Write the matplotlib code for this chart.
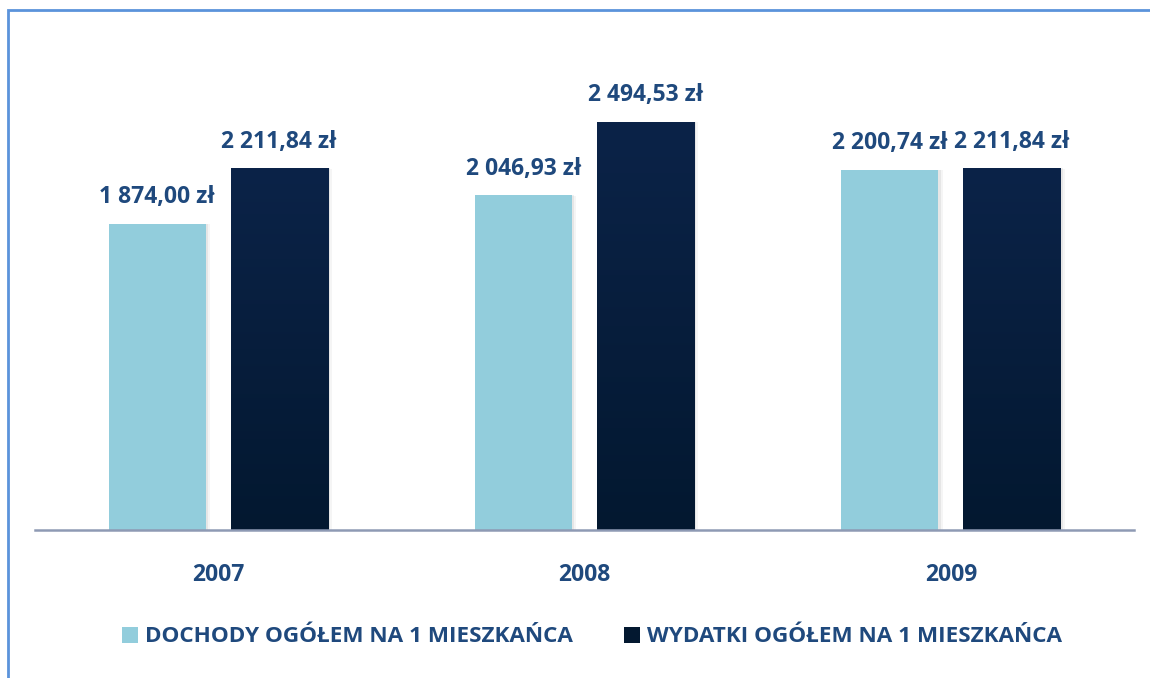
import numpy as np
import matplotlib.pyplot as plt
from matplotlib.patches import Rectangle
from matplotlib.colors import LinearSegmentedColormap

# =========================
# DATA
# =========================

YEARS = ["2007", "2008", "2009"]
DOCHODY = [1874.00, 2046.93, 2200.74]
WYDATKI = [2211.84, 2494.53, 2211.84]
SERIES_LABELS = ["DOCHODY OGÓŁEM NA 1 MIESZKAŃCA", "WYDATKI OGÓŁEM NA 1 MIESZKAŃCA"]

# =========================
# STYLE
# =========================

TEXT_COLOR = "#1F497D"
LIGHT = "#92CDDC"
DARK_TOP = "#0B2348"
DARK_BOTTOM = "#031830"
BORDER = "#5B93DB"
FONT = ["Open Sans", "DejaVu Sans"]


def fmt_pln(v):
    s = f"{v:,.2f}"
    s = s.replace(",", " ").replace(".", ",")
    return s + " zł"


def gradient_bar(ax, bar):
    x0, y0 = bar.get_x(), bar.get_y()
    w, h = bar.get_width(), bar.get_height()
    grad = np.linspace(0, 1, 256).reshape(-1, 1)
    cmap = LinearSegmentedColormap.from_list("g", [DARK_BOTTOM, DARK_TOP])
    im = ax.imshow(grad, cmap=cmap, origin="lower", aspect="auto",
                   extent=[x0, x0 + w, y0, y0 + h], zorder=3)
    im.set_clip_path(bar)
    bar.set_facecolor("none")


def main():
    plt.rcParams["font.family"] = FONT
    fig = plt.figure(figsize=(11.5, 6.78), dpi=100)
    ax = fig.add_axes([35 / 1150, 148 / 678, 1099 / 1150, 500 / 678])

    x = np.arange(len(YEARS))
    width = 0.265
    offset = 0.1665

    # soft shadows
    for xs, vals in [(x - offset, DOCHODY), (x + offset, WYDATKI)]:
        for k, a in [(0.006, 0.06), (0.012, 0.04)]:
            ax.bar(xs + k, vals, width=width, bottom=-k * 120,
                   color="#000000", alpha=a, zorder=1, linewidth=0)

    b1 = ax.bar(x - offset, DOCHODY, width=width, color=LIGHT, zorder=3,
                label=SERIES_LABELS[0])
    b2 = ax.bar(x + offset, WYDATKI, width=width, color=DARK_TOP, zorder=3,
                label=SERIES_LABELS[1])

    ax.set_xlim(-0.5, len(YEARS) - 0.5)
    ax.set_ylim(0, 500 / 0.1635)

    for bar in b2:
        gradient_bar(ax, bar)

    for bars, vals in [(b1, DOCHODY), (b2, WYDATKI)]:
        for bar, v in zip(bars, vals):
            ax.text(bar.get_x() + bar.get_width() / 2, v + 90, fmt_pln(v),
                    ha="center", va="bottom", fontsize=16.5, fontweight="bold",
                    color=TEXT_COLOR)

    for i, year in enumerate(YEARS):
        ax.text(i, -275, year, ha="center", va="center", fontsize=16.5,
                fontweight="bold", color=TEXT_COLOR)

    for side in ["top", "right", "left"]:
        ax.spines[side].set_visible(False)
    ax.spines["bottom"].set_color("#8E9AB4")
    ax.spines["bottom"].set_linewidth(1.8)
    ax.spines["bottom"].set_zorder(4)
    ax.set_xticks([])
    ax.set_yticks([])

    handles = [
        Rectangle((0, 0), 1, 1, facecolor=LIGHT),
        Rectangle((0, 0), 1, 1, facecolor=DARK_BOTTOM),
    ]
    leg = fig.legend(handles, SERIES_LABELS, loc="center",
                     bbox_to_anchor=(592 / 1150, 1 - 637 / 678), ncol=2,
                     frameon=False, handlelength=0.7, handleheight=0.7,
                     handletextpad=0.3, columnspacing=2.3,
                     prop={"size": 16.2, "weight": "bold"})
    for t in leg.get_texts():
        t.set_color(TEXT_COLOR)

    # outer border (only top and left visible in reference)
    fig.patches.append(Rectangle((7.5 / 1150, -0.1), 1.2, 1 - 10 / 678 + 0.1,
                                 transform=fig.transFigure, fill=False,
                                 edgecolor=BORDER, linewidth=2))

    fig.savefig("out.png", dpi=100)


if __name__ == "__main__":
    main()
